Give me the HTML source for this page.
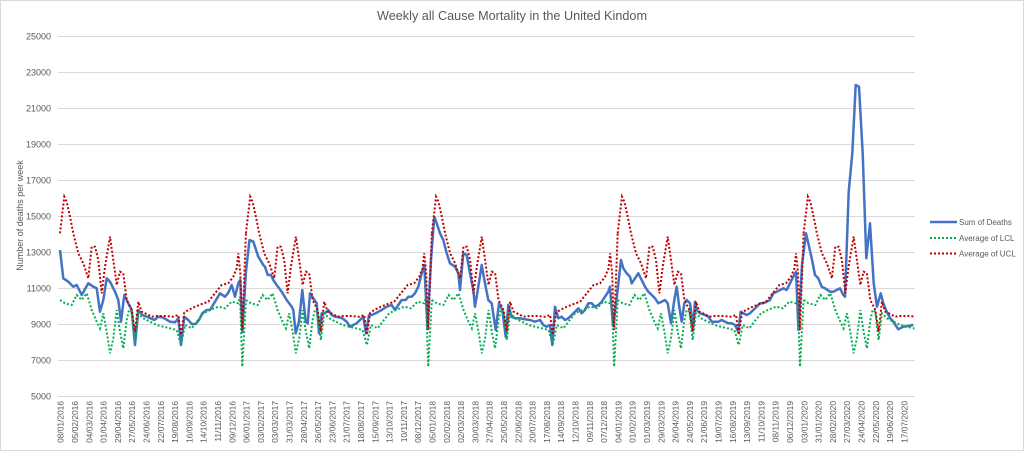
<!DOCTYPE html>
<html>
<head>
<meta charset="utf-8">
<style>
html,body{margin:0;padding:0;background:#fff;}
svg{display:block;}
</style>
</head>
<body>
<svg width="1024" height="451" viewBox="0 0 1024 451" xmlns="http://www.w3.org/2000/svg" font-family="'Liberation Sans', Arial, sans-serif">
  <defs>
    <clipPath id="plotclip"><rect x="56" y="20" width="858.5" height="400"/></clipPath>
  </defs>
  <rect x="0.5" y="0.5" width="1023" height="450" fill="#fff" stroke="#d9d9d9" stroke-width="1"/>

  <!-- Title -->
  <text x="512" y="20" text-anchor="middle" font-size="12.5" fill="#595959" textLength="270" lengthAdjust="spacingAndGlyphs">Weekly all Cause Mortality in the United Kindom</text>

  <!-- Gridlines -->
  <g stroke="#d9d9d9" stroke-width="1">
    <line x1="58" y1="36.5" x2="915" y2="36.5"/>
    <line x1="58" y1="72.5" x2="915" y2="72.5"/>
    <line x1="58" y1="108.5" x2="915" y2="108.5"/>
    <line x1="58" y1="144.5" x2="915" y2="144.5"/>
    <line x1="58" y1="180.5" x2="915" y2="180.5"/>
    <line x1="58" y1="216.5" x2="915" y2="216.5"/>
    <line x1="58" y1="252.5" x2="915" y2="252.5"/>
    <line x1="58" y1="288.5" x2="915" y2="288.5"/>
    <line x1="58" y1="324.5" x2="915" y2="324.5"/>
    <line x1="58" y1="360.5" x2="915" y2="360.5"/>
    <line x1="58" y1="396.5" x2="915" y2="396.5"/>
  </g>

  <!-- Y labels -->
  <g font-size="9" fill="#595959" text-anchor="end">
    <text x="51" y="39.5">25000</text>
    <text x="51" y="75.5">23000</text>
    <text x="51" y="111.5">21000</text>
    <text x="51" y="147.5">19000</text>
    <text x="51" y="183.5">17000</text>
    <text x="51" y="219.5">15000</text>
    <text x="51" y="255.5">13000</text>
    <text x="51" y="291.5">11000</text>
    <text x="51" y="327.5">9000</text>
    <text x="51" y="363.5">7000</text>
    <text x="51" y="399.5">5000</text>
  </g>

  <!-- Y axis title -->
  <text transform="translate(20,215.5) rotate(-90)" text-anchor="middle" dy="0.35em" font-size="9" fill="#595959">Number of deaths per week</text>

  <!-- X labels -->
  <g font-size="8.4" fill="#595959" text-anchor="end">
    <text transform="translate(60.7,401) rotate(-90)" dy="0.35em">08/01/2016</text>
    <text transform="translate(75.0,401) rotate(-90)" dy="0.35em">05/02/2016</text>
    <text transform="translate(89.3,401) rotate(-90)" dy="0.35em">04/03/2016</text>
    <text transform="translate(103.6,401) rotate(-90)" dy="0.35em">01/04/2016</text>
    <text transform="translate(117.9,401) rotate(-90)" dy="0.35em">29/04/2016</text>
    <text transform="translate(132.2,401) rotate(-90)" dy="0.35em">27/05/2016</text>
    <text transform="translate(146.5,401) rotate(-90)" dy="0.35em">24/06/2016</text>
    <text transform="translate(160.8,401) rotate(-90)" dy="0.35em">22/07/2016</text>
    <text transform="translate(175.1,401) rotate(-90)" dy="0.35em">19/08/2016</text>
    <text transform="translate(189.4,401) rotate(-90)" dy="0.35em">16/09/2016</text>
    <text transform="translate(203.7,401) rotate(-90)" dy="0.35em">14/10/2016</text>
    <text transform="translate(218.0,401) rotate(-90)" dy="0.35em">11/11/2016</text>
    <text transform="translate(232.3,401) rotate(-90)" dy="0.35em">09/12/2016</text>
    <text transform="translate(246.6,401) rotate(-90)" dy="0.35em">06/01/2017</text>
    <text transform="translate(260.9,401) rotate(-90)" dy="0.35em">03/02/2017</text>
    <text transform="translate(275.2,401) rotate(-90)" dy="0.35em">03/03/2017</text>
    <text transform="translate(289.5,401) rotate(-90)" dy="0.35em">31/03/2017</text>
    <text transform="translate(303.8,401) rotate(-90)" dy="0.35em">28/04/2017</text>
    <text transform="translate(318.1,401) rotate(-90)" dy="0.35em">26/05/2017</text>
    <text transform="translate(332.4,401) rotate(-90)" dy="0.35em">23/06/2017</text>
    <text transform="translate(346.7,401) rotate(-90)" dy="0.35em">21/07/2017</text>
    <text transform="translate(361.0,401) rotate(-90)" dy="0.35em">18/08/2017</text>
    <text transform="translate(375.3,401) rotate(-90)" dy="0.35em">15/09/2017</text>
    <text transform="translate(389.6,401) rotate(-90)" dy="0.35em">13/10/2017</text>
    <text transform="translate(403.9,401) rotate(-90)" dy="0.35em">10/11/2017</text>
    <text transform="translate(418.2,401) rotate(-90)" dy="0.35em">08/12/2017</text>
    <text transform="translate(432.5,401) rotate(-90)" dy="0.35em">05/01/2018</text>
    <text transform="translate(446.8,401) rotate(-90)" dy="0.35em">02/02/2018</text>
    <text transform="translate(461.1,401) rotate(-90)" dy="0.35em">02/03/2018</text>
    <text transform="translate(475.4,401) rotate(-90)" dy="0.35em">30/03/2018</text>
    <text transform="translate(489.7,401) rotate(-90)" dy="0.35em">27/04/2018</text>
    <text transform="translate(504.0,401) rotate(-90)" dy="0.35em">25/05/2018</text>
    <text transform="translate(518.3,401) rotate(-90)" dy="0.35em">22/06/2018</text>
    <text transform="translate(532.6,401) rotate(-90)" dy="0.35em">20/07/2018</text>
    <text transform="translate(546.9,401) rotate(-90)" dy="0.35em">17/08/2018</text>
    <text transform="translate(561.2,401) rotate(-90)" dy="0.35em">14/09/2018</text>
    <text transform="translate(575.5,401) rotate(-90)" dy="0.35em">12/10/2018</text>
    <text transform="translate(589.8,401) rotate(-90)" dy="0.35em">09/11/2018</text>
    <text transform="translate(604.1,401) rotate(-90)" dy="0.35em">07/12/2018</text>
    <text transform="translate(618.4,401) rotate(-90)" dy="0.35em">04/01/2019</text>
    <text transform="translate(632.7,401) rotate(-90)" dy="0.35em">01/02/2019</text>
    <text transform="translate(647.0,401) rotate(-90)" dy="0.35em">01/03/2019</text>
    <text transform="translate(661.3,401) rotate(-90)" dy="0.35em">29/03/2019</text>
    <text transform="translate(675.6,401) rotate(-90)" dy="0.35em">26/04/2019</text>
    <text transform="translate(689.9,401) rotate(-90)" dy="0.35em">24/05/2019</text>
    <text transform="translate(704.2,401) rotate(-90)" dy="0.35em">21/06/2019</text>
    <text transform="translate(718.5,401) rotate(-90)" dy="0.35em">19/07/2019</text>
    <text transform="translate(732.8,401) rotate(-90)" dy="0.35em">16/08/2019</text>
    <text transform="translate(747.1,401) rotate(-90)" dy="0.35em">13/09/2019</text>
    <text transform="translate(761.4,401) rotate(-90)" dy="0.35em">11/10/2019</text>
    <text transform="translate(775.7,401) rotate(-90)" dy="0.35em">08/11/2019</text>
    <text transform="translate(790.0,401) rotate(-90)" dy="0.35em">06/12/2019</text>
    <text transform="translate(804.3,401) rotate(-90)" dy="0.35em">03/01/2020</text>
    <text transform="translate(818.6,401) rotate(-90)" dy="0.35em">31/01/2020</text>
    <text transform="translate(832.9,401) rotate(-90)" dy="0.35em">28/02/2020</text>
    <text transform="translate(847.2,401) rotate(-90)" dy="0.35em">27/03/2020</text>
    <text transform="translate(861.5,401) rotate(-90)" dy="0.35em">24/04/2020</text>
    <text transform="translate(875.8,401) rotate(-90)" dy="0.35em">22/05/2020</text>
    <text transform="translate(890.1,401) rotate(-90)" dy="0.35em">19/06/2020</text>
    <text transform="translate(904.4,401) rotate(-90)" dy="0.35em">17/07/2020</text>
  </g>

  <!-- Sum of Deaths -->
  <polyline fill="none" stroke="#4472C4" stroke-width="2.5" stroke-linejoin="round" points="60,250 63.3,278.3 68.3,281.7 73.3,286.7 76.7,285 81.7,295 88.3,283.3 93.3,286.7 96.7,288.3 100,311.7 103.3,300 106.7,278.3 110,281.7 115,291.7 118.3,300 121,321.7 124.3,295 128.3,303.3 131.7,310 135,345 138.3,310 142.3,315 148.3,317.3 154.3,320 158.3,316.7 163.3,317.7 170,321.7 175,322.3 178.3,318.3 181,345 184.3,316.7 188.3,320 191.7,324 195.7,324 199,320 202.3,313.3 206.7,310 210,310 215,301.7 220,293.3 225,296.7 228.3,292.7 231.7,285 235,296.7 238.3,283.3 240.3,280 242.3,332 245.9,272 249.5,240 253.3,241.7 258.3,256.7 263.3,265 265,266.7 267.7,275 271,275 273.3,280 276.7,285 281.7,291.7 286.7,300 291.7,306.7 293.3,310 295.7,333.3 299,321.7 302.3,290 305.7,321.7 307.7,323.3 310,293.3 313.3,298.3 316.7,303.3 319,333.3 321.7,313.3 325,313.3 328.3,310 331.7,315 335,316.7 339,317.3 342.3,318.3 346.7,321.7 350,326.7 353.3,325 356.7,323.3 360,320 363.3,316.7 366,333.3 369,315 371.7,315 376.7,312.7 381.7,310 386.7,306.7 391.7,305 395,310 398.3,305 401.7,300 405.7,300 408.3,296.7 411.7,296.7 415,293.3 418.3,286.7 421.7,273.3 424.3,265 427.5,328 431,260 434.3,216.7 436.7,223.3 440,233.3 443.3,240 446.7,253.3 450,263.3 455,266.7 458.3,273.3 460,290 463.3,253.3 466.7,255 470,273.3 473.3,290 475,306.7 478.3,286.7 481.7,265 485,283.3 488.3,300 491.7,303.3 495.7,330 499,303.3 502.3,310 505.7,336.7 508.3,305 511.7,316.7 515,318.3 520,318.3 525,319.3 530,320 535,321.7 540,320 543.3,325 546.7,326.7 550,325 552.3,345 555,306.7 558.3,318.3 561.7,316.7 565,320 568.3,318.3 571.7,315 575,311.7 578.3,308.3 581.7,313.3 585,310 588.3,303.3 591.7,303.3 595,306.7 598.3,305 601.7,301.7 605,296.7 608.3,291.7 610,286.7 613,326 616.5,300 621,260 623.3,268.3 626.7,273.3 630,276.7 631.7,283.3 635,278.3 638.3,273.3 641.7,280 645,286.7 648.3,291.7 651.7,295 655,298.3 658.3,303.3 661.7,301.7 665,300 667.7,303.3 671,323.3 674.3,300 676.7,286.7 679,305 681.7,321.7 684.3,303.3 686.7,300 690,303.3 693.3,326.7 695,301.7 696.7,310 700,313.3 705,315 708.3,316.7 711.7,321.7 715,321.7 718.3,321.7 721.7,320 725,321.7 728.3,323.3 731.7,323.3 735,325 738.3,331.7 740.7,311.7 743.3,313.3 746.7,315 750,313.3 753.3,310 756.7,306.7 760,303.3 763.3,303.3 766.7,301.7 770,300 773.3,293.3 776.7,291.7 780,290 783.3,288.3 786.7,290 790,283.3 793.3,276.7 796,271.7 798.5,330 802,265 806,233.3 808.3,243.3 811.7,258.3 815,275 818.3,278.3 821.7,286.7 825,288.3 830,291.7 833.3,291.7 836.7,290 840,288.3 843.3,295 845,296.7 848.7,191.7 852.3,153.3 855.7,85 859,86.7 862.7,153.3 866.3,258.3 870,223.3 873.7,283.3 877,306.7 880.7,293.3 883.3,303.3 886.7,311.7 890,318 893.3,321.7 898.3,329.3 903.3,326.7 908.3,326 913.3,325"/>

  <!-- Average of LCL (repeating yearly pattern) -->
  <g clip-path="url(#plotclip)" fill="none" stroke="#00B050" stroke-width="2" stroke-dasharray="2 2">
    <polyline id="lclA" points="60,300 65,303.3 71.7,305 76.7,295 81.7,300 86.7,293.3 91.7,310 96.7,321.7 100,328.3 103.3,313.3 106.7,331.7 110,353.3 113.3,338.3 116.7,310 120,331.7 123.3,348.3 126.7,320 129,310 131.7,311.7 135,340 138.3,313.3 143.3,318.3 150,321.7 156.7,325 163.3,326.7 170,328.3 176.7,330 181,345 185,325 191.7,328.3 196.7,321.7 203.3,313.3 210,310 218.3,306.7 225,308.3 231.7,301.7 238.3,303.3 240,296.7 242.3,366.7 245.9,300"/>
    <polyline transform="translate(185.9,0)" points="60,300 65,303.3 71.7,305 76.7,295 81.7,300 86.7,293.3 91.7,310 96.7,321.7 100,328.3 103.3,313.3 106.7,331.7 110,353.3 113.3,338.3 116.7,310 120,331.7 123.3,348.3 126.7,320 129,310 131.7,311.7 135,340 138.3,313.3 143.3,318.3 150,321.7 156.7,325 163.3,326.7 170,328.3 176.7,330 181,345 185,325 191.7,328.3 196.7,321.7 203.3,313.3 210,310 218.3,306.7 225,308.3 231.7,301.7 238.3,303.3 240,296.7 242.3,366.7 245.9,300"/>
    <polyline transform="translate(371.8,0)" points="60,300 65,303.3 71.7,305 76.7,295 81.7,300 86.7,293.3 91.7,310 96.7,321.7 100,328.3 103.3,313.3 106.7,331.7 110,353.3 113.3,338.3 116.7,310 120,331.7 123.3,348.3 126.7,320 129,310 131.7,311.7 135,340 138.3,313.3 143.3,318.3 150,321.7 156.7,325 163.3,326.7 170,328.3 176.7,330 181,345 185,325 191.7,328.3 196.7,321.7 203.3,313.3 210,310 218.3,306.7 225,308.3 231.7,301.7 238.3,303.3 240,296.7 242.3,366.7 245.9,300"/>
    <polyline transform="translate(557.7,0)" points="60,300 65,303.3 71.7,305 76.7,295 81.7,300 86.7,293.3 91.7,310 96.7,321.7 100,328.3 103.3,313.3 106.7,331.7 110,353.3 113.3,338.3 116.7,310 120,331.7 123.3,348.3 126.7,320 129,310 131.7,311.7 135,340 138.3,313.3 143.3,318.3 150,321.7 156.7,325 163.3,326.7 170,328.3 176.7,330 181,345 185,325 191.7,328.3 196.7,321.7 203.3,313.3 210,310 218.3,306.7 225,308.3 231.7,301.7 238.3,303.3 240,296.7 242.3,366.7 245.9,300"/>
    <polyline transform="translate(743.6,0)" points="60,300 65,303.3 71.7,305 76.7,295 81.7,300 86.7,293.3 91.7,310 96.7,321.7 100,328.3 103.3,313.3 106.7,331.7 110,353.3 113.3,338.3 116.7,310 120,331.7 123.3,348.3 126.7,320 129,310 131.7,311.7 135,340 138.3,313.3 143.3,318.3 150,321.7 156.7,325 163.3,326.7 170,328.3 176.7,330"/>
  </g>

  <!-- Average of UCL (repeating yearly pattern) -->
  <g clip-path="url(#plotclip)" fill="none" stroke="#C00000" stroke-width="2" stroke-dasharray="2 2">
    <polyline points="60,233.3 64.3,196.7 66.7,201.7 70,216.7 73.3,233.3 78.3,253.3 83.3,263.3 88.3,278.3 91.7,246.7 95,246.7 98.3,260 101.7,293.3 105,266.7 110,236.7 113.3,260 116.7,285 120,271.7 123.3,273.3 126.7,300 131.7,310 135,331.7 138.3,301.7 141.7,311.7 146.7,314 151.7,316.7 156.7,316 165,316 173.3,316.7 178.3,315 181,335 184.3,312.7 188.3,310 195,306.7 201.7,304 208.3,301.7 215,293.3 221.7,285 228.3,283.3 233.3,276.7 236.7,268.3 238.3,253.3 240.3,273 242.3,330 245.9,233.3"/>
    <polyline transform="translate(185.9,0)" points="60,233.3 64.3,196.7 66.7,201.7 70,216.7 73.3,233.3 78.3,253.3 83.3,263.3 88.3,278.3 91.7,246.7 95,246.7 98.3,260 101.7,293.3 105,266.7 110,236.7 113.3,260 116.7,285 120,271.7 123.3,273.3 126.7,300 131.7,310 135,331.7 138.3,301.7 141.7,311.7 146.7,314 151.7,316.7 156.7,316 165,316 173.3,316.7 178.3,315 181,335 184.3,312.7 188.3,310 195,306.7 201.7,304 208.3,301.7 215,293.3 221.7,285 228.3,283.3 233.3,276.7 236.7,268.3 238.3,253.3 240.3,273 242.3,330 245.9,233.3"/>
    <polyline transform="translate(371.8,0)" points="60,233.3 64.3,196.7 66.7,201.7 70,216.7 73.3,233.3 78.3,253.3 83.3,263.3 88.3,278.3 91.7,246.7 95,246.7 98.3,260 101.7,293.3 105,266.7 110,236.7 113.3,260 116.7,285 120,271.7 123.3,273.3 126.7,300 131.7,310 135,331.7 138.3,301.7 141.7,311.7 146.7,314 151.7,316.7 156.7,316 165,316 173.3,316.7 178.3,315 181,335 184.3,312.7 188.3,310 195,306.7 201.7,304 208.3,301.7 215,293.3 221.7,285 228.3,283.3 233.3,276.7 236.7,268.3 238.3,253.3 240.3,273 242.3,330 245.9,233.3"/>
    <polyline transform="translate(557.7,0)" points="60,233.3 64.3,196.7 66.7,201.7 70,216.7 73.3,233.3 78.3,253.3 83.3,263.3 88.3,278.3 91.7,246.7 95,246.7 98.3,260 101.7,293.3 105,266.7 110,236.7 113.3,260 116.7,285 120,271.7 123.3,273.3 126.7,300 131.7,310 135,331.7 138.3,301.7 141.7,311.7 146.7,314 151.7,316.7 156.7,316 165,316 173.3,316.7 178.3,315 181,335 184.3,312.7 188.3,310 195,306.7 201.7,304 208.3,301.7 215,293.3 221.7,285 228.3,283.3 233.3,276.7 236.7,268.3 238.3,253.3 240.3,273 242.3,330 245.9,233.3"/>
    <polyline transform="translate(743.6,0)" points="60,233.3 64.3,196.7 66.7,201.7 70,216.7 73.3,233.3 78.3,253.3 83.3,263.3 88.3,278.3 91.7,246.7 95,246.7 98.3,260 101.7,293.3 105,266.7 110,236.7 113.3,260 116.7,285 120,271.7 123.3,273.3 126.7,300 131.7,310 135,331.7 138.3,301.7 141.7,311.7 146.7,314 151.7,316.7 156.7,316 165,316 173.3,316.7"/>
  </g>

  <!-- Legend -->
  <line x1="930" y1="222" x2="957" y2="222" stroke="#4472C4" stroke-width="2.5"/>
  <line x1="930" y1="238" x2="957" y2="238" stroke="#00B050" stroke-width="2" stroke-dasharray="2 2"/>
  <line x1="930" y1="253.5" x2="957" y2="253.5" stroke="#C00000" stroke-width="2" stroke-dasharray="2 2"/>
  <g font-size="8" fill="#595959">
    <text x="959" y="225">Sum of Deaths</text>
    <text x="959" y="241">Average of LCL</text>
    <text x="959" y="256.5">Average of UCL</text>
  </g>
</svg>
</body>
</html>
